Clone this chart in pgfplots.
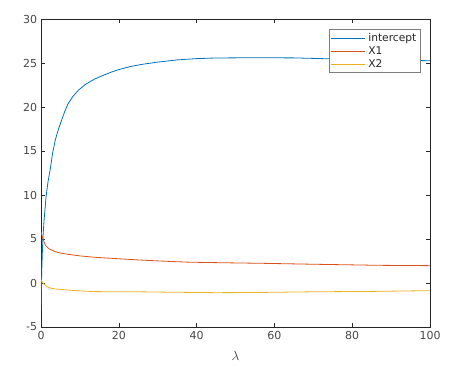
\documentclass[border=0pt]{standalone}
\usepackage{fontspec}
\setmainfont{DejaVu Sans}
\usepackage{pgfplots}
\pgfplotsset{compat=1.18}
\definecolor{mblue}{rgb}{0,0.447,0.741}
\definecolor{morange}{rgb}{0.85,0.325,0.098}
\definecolor{myellow}{rgb}{0.929,0.694,0.125}
\definecolor{axgray}{rgb}{0.15,0.15,0.15}
\begin{document}
\fontsize{8.25}{10}\selectfont
\begin{tikzpicture}
\path[use as bounding box] (0,0) rectangle (336.75pt,275.25pt);
\begin{axis}[
  at={(30.75pt,30pt)}, anchor=south west,
  scale only axis, width=291.75pt, height=231pt,
  xmin=0, xmax=100, ymin=-5, ymax=30,
  xtick={0,20,...,100}, ytick={-5,0,...,30},
  tick align=inside, major tick length=3pt,
  axis line style={color=axgray, line width=0.5pt},
  tick style={color=axgray, line width=0.4pt},
  ticklabel style={color=axgray!85, font=\fontsize{8.25}{10}\selectfont},
  /pgf/number format/assume math mode=true,
  xlabel={$\lambda$},
  xlabel style={color=axgray!85, font=\fontsize{10}{12}\selectfont, yshift=-3pt},
  legend cell align=left,
  legend style={at={(1,1)}, anchor=north east, xshift=-7pt, yshift=-7.5pt,
    draw=axgray!60, line width=0.5pt, font=\fontsize{8}{9.5}\selectfont,
    inner sep=1pt, row sep=-1.5pt, text=axgray},
  legend image code/.code={\draw[#1] (0pt,0pt) -- (26pt,0pt);},
  every axis plot/.append style={line width=0.6pt},
]
\addplot[mblue] coordinates {
(0,-3.1)(0.1,-0.5)(0.2,1.5)(0.35,3.5)(0.5,5.2)(0.8,7.2)(1.3,9.8)(1.8,11.5)
(2.4,13.0)(3.0,14.8)(3.7,16.3)(4.5,17.5)(5.3,18.5)(6.2,19.6)(7.0,20.4)
(8.2,21.2)(9.6,21.9)(11.5,22.6)(13.9,23.2)(16,23.6)(18,23.95)(20,24.25)
(23,24.6)(26,24.85)(30,25.1)(35,25.35)(40,25.5)(45,25.57)(55,25.6)
(65,25.58)(72,25.5)(80,25.4)(90,25.32)(100,25.26)
};
\addlegendentry{intercept}
\addplot[morange] coordinates {
(0,5.83)(0.2,5.5)(0.5,5.0)(1.1,4.3)(2,3.9)(3.7,3.56)(5,3.4)(7,3.26)(10,3.08)
(13.9,2.92)(19,2.78)(25.5,2.61)(32,2.47)(38.4,2.36)(47,2.3)(56.5,2.24)(64,2.18)
(71.5,2.12)(80,2.06)(86.5,2.01)(100,1.97)
};
\addlegendentry{X1}
\addplot[myellow] coordinates {
(0,0.34)(0.5,0.0)(1.5,-0.42)(2.5,-0.58)(3.7,-0.68)(7,-0.8)(10,-0.9)(13.9,-0.98)
(25,-1.0)(34,-1.05)(45,-1.1)(55,-1.08)(70,-1.0)(86,-0.95)(100,-0.87)
};
\addlegendentry{X2}
\end{axis}
\end{tikzpicture}
\end{document}
